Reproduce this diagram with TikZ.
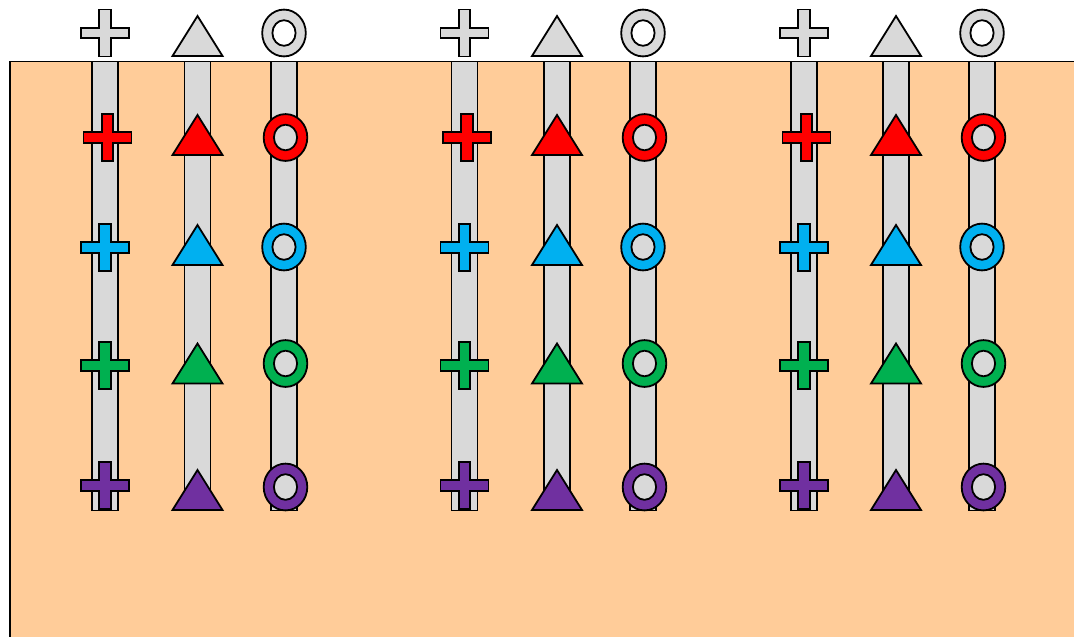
\documentclass[tikz,border=0pt]{standalone}
\definecolor{ground}{HTML}{FFCC99}
\definecolor{pipegray}{HTML}{D9D9D9}
\definecolor{cred}{HTML}{FF0000}
\definecolor{cblue}{HTML}{00B0F0}
\definecolor{cgreen}{HTML}{00B050}
\definecolor{cpurple}{HTML}{7030A0}
\tikzset{
  outline/.style={draw=black, line width=1.8pt, line join=miter},
  pipe/.style={outline, fill=pipegray},
  plusshape/.pic={
    \path[outline, pic actions] (-5.75,-23.5) -- (5.75,-23.5) -- (5.75,-5.25) -- (24,-5.25) -- (24,5.25)
      -- (5.75,5.25) -- (5.75,23.5) -- (-5.75,23.5) -- (-5.75,5.25) -- (-24,5.25) -- (-24,-5.25)
      -- (-5.75,-5.25) -- cycle;
  },
  trishape/.pic={
    \path[outline, pic actions] (-25,20.5) -- (0,-19.5) -- (25,20.5) -- cycle;
  },
  ringshape/.pic={
    \path[outline, even odd rule, pic actions] (0,0) ellipse [x radius=21.8, y radius=23.4]
      (0,0) ellipse [x radius=11.6, y radius=12.8] ;
  }
}
\begin{document}
\begin{tikzpicture}[x=1pt,y=-1pt]
\useasboundingbox (0,0) rectangle (1074,637);
\clip (0,0) rectangle (1074,637);
\path[outline, fill=ground] (10,61.5) rectangle (1090,660);
\foreach \gx/\tx/\cx in {105/197.5/284, 464.5/557/643, 804/896/982} {
  % pipes
  \path[pipe] (\gx-13,61.5) rectangle (\gx+13,510.5);
  \path[pipe] (\tx-13,61.5) rectangle (\tx+13,510.5);
  \path[pipe] (\cx-13,61.5) rectangle (\cx+13,510.5);
  % top grey symbols
  \pic[fill=pipegray] at (\gx,33) {plusshape};
  \pic[fill=pipegray] at (\tx,35.5) {trishape};
  \pic[fill=pipegray] at (\cx,33) {ringshape};
  % coloured symbols
  \pic[fill=cred] at (\gx+2.5,137.5) {plusshape};
  \pic[fill=cblue] at (\gx,247.5) {plusshape};
  \pic[fill=cgreen] at (\gx,365.5) {plusshape};
  \pic[fill=cpurple] at (\gx,485.5) {plusshape};
  \pic[fill=cred] at (\tx,134.5) {trishape};
  \pic[fill=cblue] at (\tx,244.5) {trishape};
  \pic[fill=cgreen] at (\tx,363) {trishape};
  \pic[fill=cpurple] at (\tx,489.5) {trishape};
  \pic[fill=cred] at (\cx+1.5,137.5) {ringshape};
  \pic[fill=cblue] at (\cx,247) {ringshape};
  \pic[fill=cgreen] at (\cx+1.5,363.5) {ringshape};
  \pic[fill=cpurple] at (\cx+1.5,487) {ringshape};
}
\end{tikzpicture}
\end{document}
